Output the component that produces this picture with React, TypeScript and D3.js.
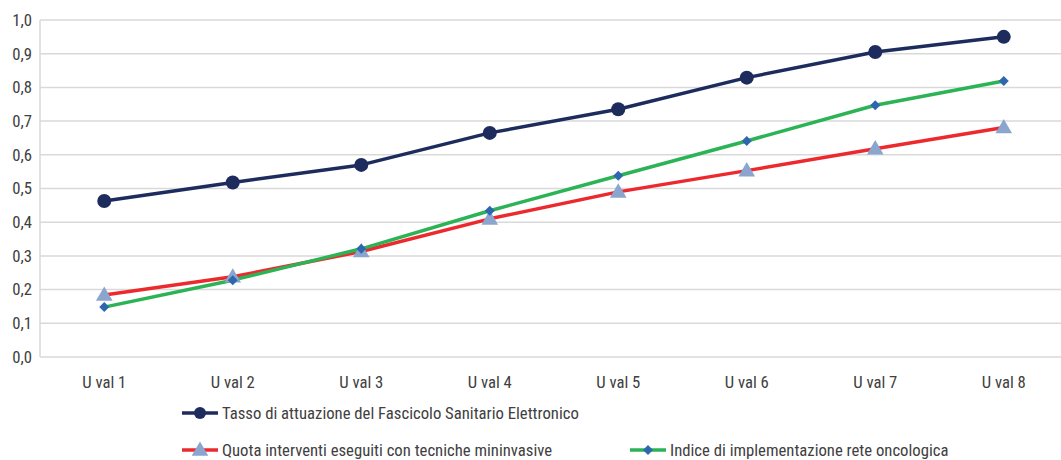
import React from "react";
import * as d3 from "d3";

const categories = ["U val 1", "U val 2", "U val 3", "U val 4", "U val 5", "U val 6", "U val 7", "U val 8"];
const fseValues = [0.463, 0.518, 0.57, 0.665, 0.735, 0.829, 0.905, 0.95];
const mininvasiveValues = [0.184, 0.238, 0.313, 0.41, 0.49, 0.553, 0.618, 0.681];
const oncologicaValues = [0.148, 0.228, 0.321, 0.434, 0.538, 0.641, 0.747, 0.819];
const yTicks = [0, 0.1, 0.2, 0.3, 0.4, 0.5, 0.6, 0.7, 0.8, 0.9, 1.0];

const W = 1061;
const H = 460;
const FONT = "'Liberation Sans Narrow', 'Roboto Condensed', Roboto, sans-serif";
const FS = 16.7;

const series = [
  { name: "Tasso di attuazione del Fascicolo Sanitario Elettronico", values: fseValues, color: "#1d2c5c", marker: "circle", markerColor: "#1d2c5c" },
  { name: "Quota interventi eseguiti con tecniche mininvasive", values: mininvasiveValues, color: "#ec2a2e", marker: "triangle", markerColor: "#8aa6cf" },
  { name: "Indice di implementazione rete oncologica", values: oncologicaValues, color: "#2cb356", marker: "diamond", markerColor: "#2f66b0" },
];

const Marker: React.FC<{ type: string; x: number; y: number; color: string; small?: boolean }> = ({ type, x, y, color, small }) => {
  if (type === "circle") return <circle cx={x} cy={y} r={small ? 6 : 7} fill={color} />;
  if (type === "triangle") {
    const p = d3.symbol(d3.symbolTriangle, 120)();
    return <path d={p || ""} transform={`translate(${x},${y + 1})`} fill={color} />;
  }
  // square rotated 45deg
  const p = d3.symbol(d3.symbolSquare, 50)();
  return <path d={p || ""} transform={`translate(${x},${y}) rotate(45)`} fill={color} />;
};

export default function App() {
  const left = 40;
  const right = 1068;
  const top = 20;
  const bottom = 357;

  const x = d3.scaleBand().domain(categories).range([left, right]);
  const y = d3.scaleLinear().domain([0, 1]).range([bottom, top]);
  const cx = (c: string) => (x(c) || 0) + x.bandwidth() / 2;

  const line = d3.line<number>()
    .x((_, i) => cx(categories[i]))
    .y(d => y(d));

  const legend = [
    { s: series[0], lx: 182, ly: 413 },
    { s: series[1], lx: 182, ly: 450 },
    { s: series[2], lx: 630, ly: 450 },
  ];

  return (
    <svg width={W} height={H} style={{ position: "absolute", left: 0, top: 0, background: "#fff" }} fontFamily={FONT}>
      {yTicks.map(t => (
        <g key={t}>
          <line x1={left} x2={W} y1={y(t)} y2={y(t)} stroke="#d9d9d9" strokeWidth={1.5} />
          <text x={32} y={y(t)} dy="0.35em" textAnchor="end" fontSize={FS} fill="#404040">
            {d3.format(".1f")(t).replace(".", ",")}
          </text>
        </g>
      ))}
      <line x1={left} x2={left} y1={top} y2={bottom} stroke="#d9d9d9" strokeWidth={1.5} />
      {categories.map(c => (
        <text key={c} x={cx(c)} y={382} dy="0.35em" textAnchor="middle" fontSize={FS} fill="#404040">{c}</text>
      ))}
      {series.map(s => (
        <path key={s.name} d={line(s.values) || ""} fill="none" stroke={s.color} strokeWidth={3.5} strokeLinejoin="round" />
      ))}
      {series.map(s => s.values.map((v, i) => (
        <Marker key={s.name + i} type={s.marker} x={cx(categories[i])} y={y(v)} color={s.markerColor} />
      )))}
      {legend.map(({ s, lx, ly }) => (
        <g key={s.name}>
          <line x1={lx} x2={lx + 36} y1={ly} y2={ly} stroke={s.color} strokeWidth={3.5} />
          <Marker type={s.marker} x={lx + 18} y={ly} color={s.markerColor} small />
          <text x={lx + 40} y={ly} dy="0.35em" fontSize={FS} fill="#404040">{s.name}</text>
        </g>
      ))}
    </svg>
  );
}
